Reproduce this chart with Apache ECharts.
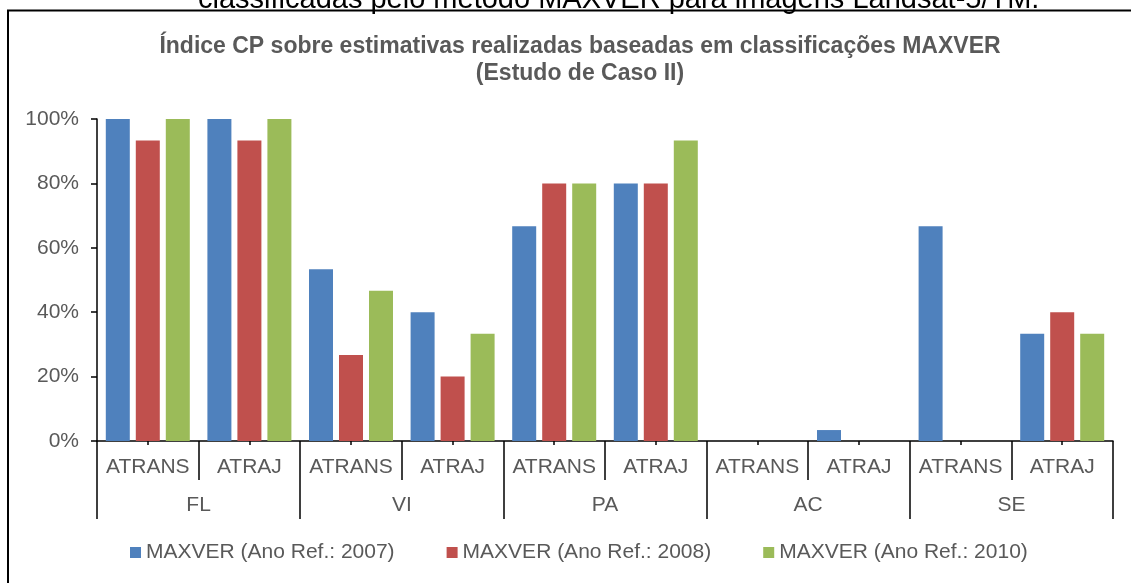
<!DOCTYPE html>
<html>
<head>
<meta charset="utf-8">
<script src="https://cdn.jsdelivr.net/npm/echarts@6/dist/echarts.min.js"></script>
<style>
html,body{margin:0;padding:0;background:#fff;}
#chart{width:1131px;height:583px;}
</style>
</head>
<body>
<div id="chart"></div>
<script>
var groups = ['FL', 'VI', 'PA', 'AC', 'SE'];
var subGroups = ['ATRANS', 'ATRAJ'];
var seriesNames = ['MAXVER (Ano Ref.: 2007)', 'MAXVER (Ano Ref.: 2008)', 'MAXVER (Ano Ref.: 2010)'];
var values2007 = [100, 100, 53.3, 40, 66.7, 80, 0, 3.4, 66.7, 33.3];
var values2008 = [93.3, 93.3, 26.7, 20, 80, 80, 0, 0, 0, 40];
var values2010 = [100, 100, 46.7, 33.3, 80, 93.3, 0, 0, 0, 33.3];
var yTicks = [0, 20, 40, 60, 80, 100];
var titleLine1 = 'Índice CP sobre estimativas realizadas baseadas em classificações MAXVER';
var titleLine2 = '(Estudo de Caso II)';
var captionText = 'classificadas pelo método MAXVER para imagens Landsat-5/TM.';

var subCats = [];
groups.forEach(function (g) { subGroups.forEach(function (s) { subCats.push(s); }); });

var FONT = '"Liberation Sans", Arial, sans-serif';
var LABEL = '#595959';
var colors = ['#4F81BD', '#C0504D', '#9BBB59'];

var chart = echarts.init(document.getElementById('chart'), null, {renderer: 'canvas'});
var lineStyle = {color: '#000', width: 1.5};

function bar(name, data, i) {
  return {
    name: name, type: 'bar', data: data, xAxisIndex: 0, yAxisIndex: 0,
    barWidth: 24, barGap: '25%',
    itemStyle: {color: colors[i]},
    animation: false
  };
}

function titleText(txt, y) {
  return {type: 'text', x: 580, y: y, silent: true,
    style: {text: txt, fontFamily: FONT, fontSize: 23, fontWeight: 'bold', fill: LABEL,
      textAlign: 'center', textVerticalAlign: 'middle'}};
}

chart.setOption({
  animation: false,
  textStyle: {fontFamily: FONT},
  legend: {
    data: seriesNames,
    bottom: 15, left: 125,
    itemWidth: 11, itemHeight: 11, itemGap: 52,
    icon: 'rect',
    textStyle: {fontFamily: FONT, fontSize: 21, color: LABEL}
  },
  grid: {left: 97, right: 18, top: 119, bottom: 142, containLabel: false},
  xAxis: [
    {
      type: 'category', data: subCats, position: 'bottom',
      axisLine: {show: true, lineStyle: lineStyle},
      axisTick: {show: true, alignWithLabel: true, length: 4, lineStyle: lineStyle},
      axisLabel: {fontFamily: FONT, fontSize: 21, color: LABEL, margin: 16, interval: 0},
      splitLine: {show: false}
    },
    {
      type: 'category', data: groups, position: 'bottom',
      axisLine: {show: false},
      axisTick: {show: true, length: 78, lineStyle: lineStyle},
      axisLabel: {fontFamily: FONT, fontSize: 21, color: LABEL, margin: 54, interval: 0},
      splitLine: {show: false}
    },
    {
      type: 'category', data: subCats, position: 'bottom',
      axisLine: {show: false},
      axisTick: {show: true, length: 39, interval: 0, lineStyle: lineStyle},
      axisLabel: {show: false},
      splitLine: {show: false}
    }
  ],
  yAxis: {
    type: 'value', min: 0, max: 100, interval: 20,
    axisLine: {show: true, lineStyle: lineStyle},
    axisTick: {show: true, length: 6, lineStyle: lineStyle},
    axisLabel: {fontFamily: FONT, fontSize: 21, color: LABEL, margin: 18,
      formatter: function (v) { return yTicks.indexOf(v) >= 0 ? v + '%' : ''; }},
    splitLine: {show: false}
  },
  graphic: [
    {type: 'rect', shape: {x: 8, y: 10.5, width: 1300, height: 700}, style: {fill: 'none', stroke: '#000', lineWidth: 2}, z: -10, silent: true},
    {type: 'text', x: 198, y: 0, style: {text: captionText, fontFamily: FONT, fontSize: 29, fill: '#000', textAlign: 'left', textVerticalAlign: 'middle'}, z: -5, silent: true},
    titleText(titleLine1, 47),
    titleText(titleLine2, 74)
  ],
  series: [
    bar(seriesNames[0], values2007, 0),
    bar(seriesNames[1], values2008, 1),
    bar(seriesNames[2], values2010, 2)
  ]
});
</script>
</body>
</html>
